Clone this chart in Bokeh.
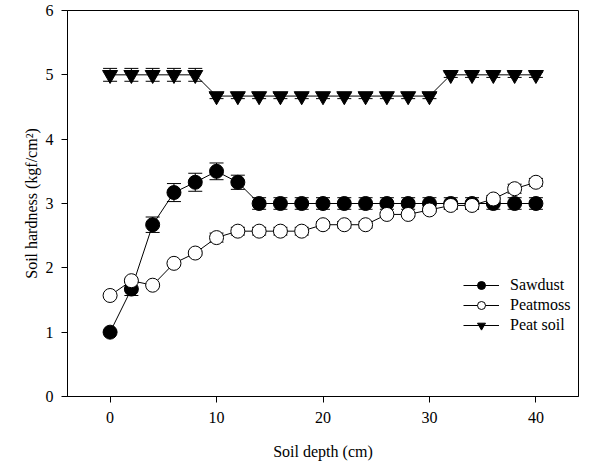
from bokeh.plotting import figure
from bokeh.models import (ColumnDataSource, Whisker, TeeHead, Legend, LegendItem,
                          FixedTicker, Range1d)
from bokeh.embed import file_html
from bokeh.resources import INLINE

depth = [0, 2, 4, 6, 8, 10, 12, 14, 16, 18, 20, 22, 24, 26, 28, 30, 32, 34, 36, 38, 40]
sawdust = [1.0, 1.67, 2.67, 3.17, 3.33, 3.5, 3.33, 3.0, 3.0, 3.0, 3.0, 3.0, 3.0, 3.0, 3.0, 3.0, 3.0, 3.0, 3.0, 3.0, 3.0]
sawdust_err = [0.0, 0.1, 0.12, 0.14, 0.14, 0.13, 0.11, 0.09, 0.09, 0.09, 0.09, 0.09, 0.09, 0.09, 0.09, 0.09, 0.09, 0.09, 0.09, 0.09, 0.09]
peatmoss = [1.57, 1.8, 1.73, 2.07, 2.23, 2.47, 2.57, 2.57, 2.57, 2.57, 2.67, 2.67, 2.67, 2.83, 2.83, 2.9, 2.97, 2.97, 3.07, 3.23, 3.33]
peatmoss_err = [0.0, 0.0, 0.0, 0.0, 0.03, 0.07, 0.06, 0.06, 0.06, 0.06, 0.05, 0.05, 0.05, 0.03, 0.03, 0.03, 0.05, 0.05, 0.05, 0.07, 0.06]
peatsoil = [5.0, 5.0, 5.0, 5.0, 5.0, 4.67, 4.67, 4.67, 4.67, 4.67, 4.67, 4.67, 4.67, 4.67, 4.67, 4.67, 5.0, 5.0, 5.0, 5.0, 5.0]
peatsoil_err = [0.1, 0.1, 0.1, 0.1, 0.1, 0.04, 0.04, 0.04, 0.04, 0.04, 0.04, 0.04, 0.04, 0.04, 0.04, 0.04, 0.04, 0.04, 0.04, 0.04, 0.04]

x_ticks = [0, 10, 20, 30, 40]
y_ticks = [0, 1, 2, 3, 4, 5, 6]

FONT = "Liberation Serif"

p = figure(width=615, height=463, output_backend="svg", toolbar_location=None,
           x_range=Range1d(-4, 44), y_range=Range1d(0, 6),
           min_border_left=67, min_border_right=37, min_border_top=10, min_border_bottom=67)
p.xgrid.visible = False
p.ygrid.visible = False
p.outline_line_color = "black"
p.outline_line_width = 1

for ax in (p.xaxis[0], p.yaxis[0]):
    ax.major_tick_in = 0
    ax.major_tick_out = 6
    ax.minor_tick_out = 0
    ax.minor_tick_in = 0
    ax.axis_line_color = "black"
    ax.major_tick_line_color = "black"
    ax.major_label_text_font = FONT
    ax.major_label_text_font_size = "16px"
    ax.major_label_text_color = "black"
    ax.axis_label_text_font = FONT
    ax.axis_label_text_font_size = "16px"
    ax.axis_label_text_font_style = "normal"
    ax.axis_label_text_color = "black"

p.xaxis.ticker = FixedTicker(ticks=x_ticks)
p.yaxis.ticker = FixedTicker(ticks=y_ticks)
p.xaxis.axis_label = "Soil depth (cm)"
p.yaxis.axis_label = "Soil hardness (kgf/cm\u00b2)"
p.xaxis.major_label_standoff = 9
p.xaxis.axis_label_standoff = 17
p.yaxis.major_label_standoff = 8
p.yaxis.axis_label_standoff = 3

series = [
    ("Sawdust", sawdust, sawdust_err, "circle", "black", 14),
    ("Peatmoss", peatmoss, peatmoss_err, "circle", "white", 14),
    ("Peat soil", peatsoil, peatsoil_err, "inverted_triangle", "black", 15),
]

items = []
for name, vals, errs, marker, fill, size in series:
    src = ColumnDataSource(dict(
        x=depth, y=vals,
        lo=[v - e for v, e in zip(vals, errs)],
        hi=[v + e for v, e in zip(vals, errs)],
    ))
    w = Whisker(base="x", upper="hi", lower="lo", source=src, dimension="height",
                level="underlay", line_color="black", line_width=1,
                upper_head=TeeHead(size=14, line_color="black", line_width=1),
                lower_head=TeeHead(size=14, line_color="black", line_width=1))
    p.add_layout(w)
    ln = p.line("x", "y", source=src, line_color="black", line_width=1)
    sc = p.scatter("x", "y", source=src, marker=marker, size=size,
                   fill_color=fill, line_color="black", line_width=1)
    items.append(LegendItem(label=name, renderers=[ln, sc]))

legend = Legend(items=items, location=(396, 61), border_line_color=None,
                background_fill_alpha=0, padding=0, margin=0, spacing=0,
                glyph_width=36, glyph_height=20, label_height=20, label_standoff=11,
                label_text_font=FONT, label_text_font_size="16px", label_text_color="black")
p.add_layout(legend)

open("out.html", "w").write(file_html(p, INLINE))
